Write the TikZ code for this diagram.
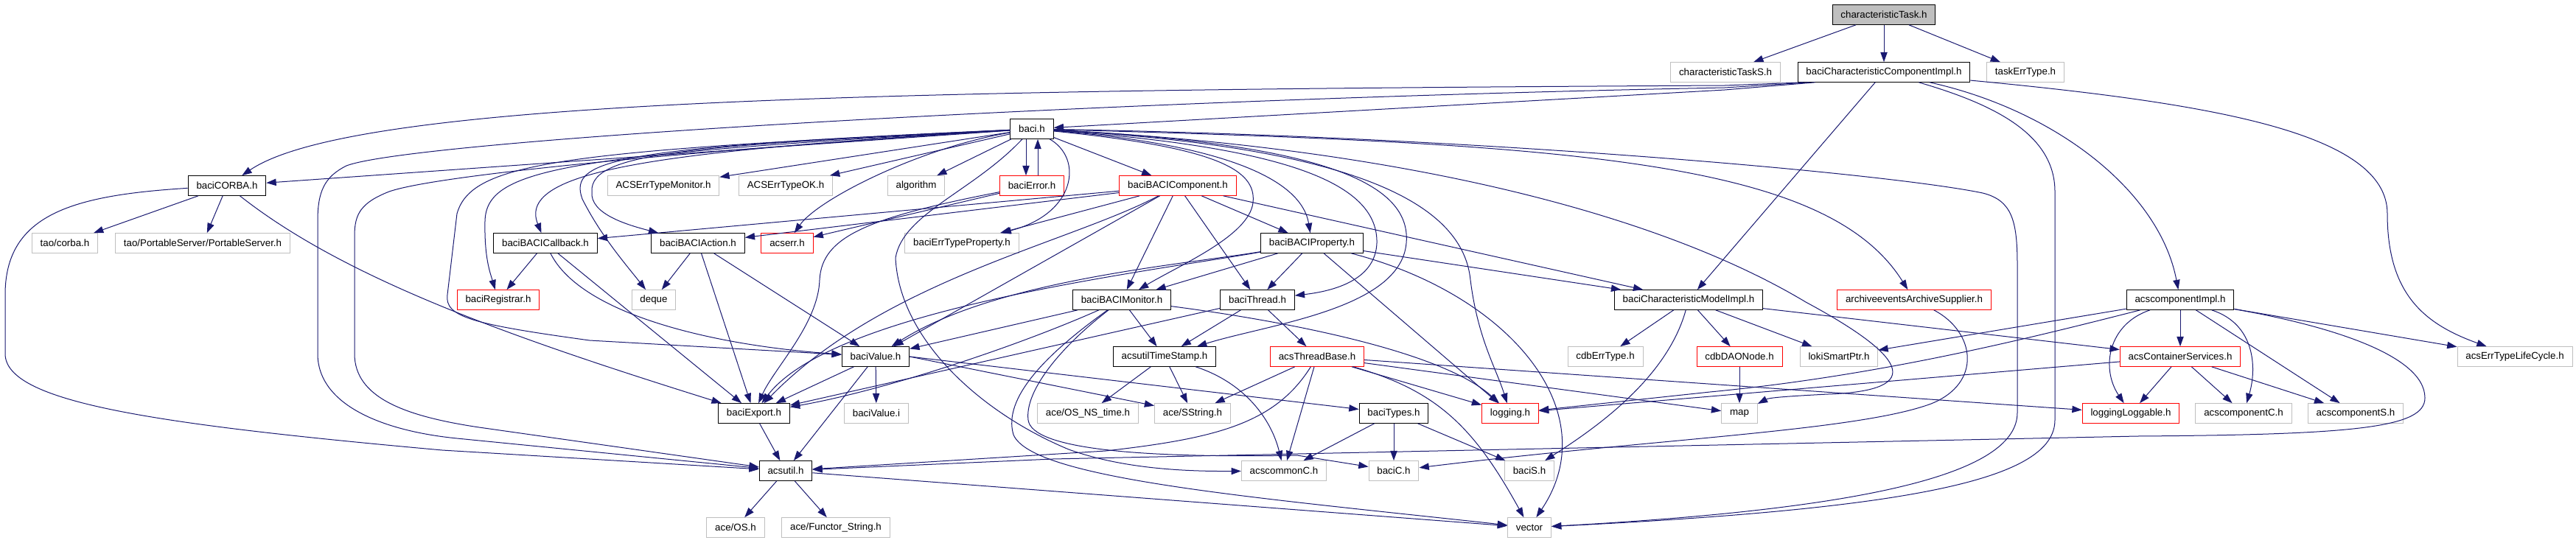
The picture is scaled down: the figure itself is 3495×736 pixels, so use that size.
\documentclass[tikz,border=0pt]{standalone}
\usepackage{fontspec}
\setmainfont{Liberation Sans}
\usepackage{tikz}
\usetikzlibrary{arrows.meta}
\definecolor{edgeblue}{RGB}{25,25,112}
\definecolor{extgray}{RGB}{191,191,191}
\definecolor{cutred}{RGB}{255,0,0}

\begin{document}
\begin{tikzpicture}[x=0.75pt,y=0.75pt,
	main node/.style={rectangle,draw=black,line width=0.75pt,minimum height=20pt,
		inner xsep=8.5pt,inner ysep=0pt,font=\fontsize{10}{12}\selectfont},
	ext node/.style={main node,draw=extgray},
	cut node/.style={main node,draw=cutred},
	root node/.style={main node,fill=extgray},
	dep/.style={color=edgeblue,line width=0.75pt,-{Triangle[length=10pt,width=7pt]}}]
	
	\useasboundingbox (0,0) rectangle (3495,-736);
	
	\node[root node] (1) at (2556,-20) {characteristicTask.h};
	\node[ext node] (2) at (2341,-98) {characteristicTaskS.h};
	\node[main node] (3) at (2556,-98) {baciCharacteristicComponentImpl.h};
	\node[ext node] (4) at (2748,-98) {taskErrType.h};
	\node[main node] (5) at (1400,-175) {baci.h};
	\node[main node] (6) at (308,-252) {baciCORBA.h};
	\node[ext node] (7) at (900,-252) {ACSErrTypeMonitor.h};
	\node[ext node] (8) at (1066,-252) {ACSErrTypeOK.h};
	\node[ext node] (9) at (1243,-252) {algorithm};
	\node[cut node] (10) at (1400,-252) {baciError.h};
	\node[cut node] (11) at (1598,-252) {baciBACIComponent.h};
	\node[ext node] (12) at (88,-330) {tao/corba.h};
	\node[ext node] (13) at (275,-330) {tao/PortableServer/PortableServer.h};
	\node[main node] (14) at (740,-330) {baciBACICallback.h};
	\node[main node] (15) at (947,-330) {baciBACIAction.h};
	\node[cut node] (16) at (1068,-330) {acserr.h};
	\node[ext node] (17) at (1305,-330) {baciErrTypeProperty.h};
	\node[main node] (18) at (1780,-330) {baciBACIProperty.h};
	\node[cut node] (19) at (676,-407) {baciRegistrar.h};
	\node[ext node] (20) at (887,-407) {deque};
	\node[main node] (21) at (1522,-407) {baciBACIMonitor.h};
	\node[main node] (22) at (1706,-407) {baciThread.h};
	\node[main node] (23) at (2291,-407) {baciCharacteristicModelImpl.h};
	\node[cut node] (24) at (2597,-407) {archiveeventsArchiveSupplier.h};
	\node[main node] (25) at (2958,-407) {acscomponentImpl.h};
	\node[main node] (26) at (1188,-484) {baciValue.h};
	\node[main node] (27) at (1580,-484) {acsutilTimeStamp.h};
	\node[cut node] (28) at (1787,-484) {acsThreadBase.h};
	\node[ext node] (29) at (2178,-484) {cdbErrType.h};
	\node[cut node] (30) at (2360,-484) {cdbDAONode.h};
	\node[ext node] (31) at (2495,-484) {lokiSmartPtr.h};
	\node[cut node] (32) at (2958,-484) {acsContainerServices.h};
	\node[ext node] (33) at (3412,-484) {acsErrTypeLifeCycle.h};
	\node[main node] (34) at (1023,-561) {baciExport.h};
	\node[ext node] (35) at (1189,-561) {baciValue.i};
	\node[ext node] (36) at (1476,-561) {ace/OS\_NS\_time.h};
	\node[ext node] (37) at (1618,-561) {ace/SString.h};
	\node[main node] (38) at (1891,-561) {baciTypes.h};
	\node[cut node] (39) at (2049,-561) {logging.h};
	\node[ext node] (40) at (2360,-561) {map};
	\node[cut node] (41) at (2891,-561) {loggingLoggable.h};
	\node[ext node] (42) at (3044,-561) {acscomponentC.h};
	\node[ext node] (43) at (3196,-561) {acscomponentS.h};
	\node[main node] (44) at (1066,-639) {acsutil.h};
	\node[ext node] (45) at (1742,-639) {acscommonC.h};
	\node[ext node] (46) at (1891,-639) {baciC.h};
	\node[ext node] (47) at (2075,-639) {baciS.h};
	\node[ext node] (48) at (998,-716) {ace/OS.h};
	\node[ext node] (49) at (1134,-716) {ace/Functor\_String.h};
	\node[ext node] (50) at (2075,-716) {vector};
	
	\path[dep]
	(1) edge (2) edge (3) edge (4)
	(3) edge (23)
	(5) edge (6) edge (7) edge (8) edge (9) edge (11)
	([xshift=-6pt]5.south) edge ([xshift=-6pt]10.north)
	([xshift=6pt]10.north) edge ([xshift=6pt]5.south)
	(6) edge (12) edge (13)
	(10) edge (16)
	(11) edge (14) edge (15) edge (17) edge (18) edge (21) edge (22) edge (23) edge (26)
	(14) edge (19) edge (34)
	(15) edge (20) edge (34) edge (26)
	(18) edge (21) edge (22) edge (23) edge (39)
	(21) edge (26) edge (27)
	(22) edge (27) edge (28) edge (34)
	(23) edge (29) edge (30) edge (31) edge (32)
	(25) edge (32) edge (43) edge (33) edge (31)
	(26) edge (35) edge (34) edge (44)
	(26.east) edge (37) edge (38)
	(27) edge (36) edge (37)
	(28) edge (45) edge (37) edge (39) edge (40) edge (41)
	(30) edge (40)
	(32) edge (41) edge (42) edge (43) edge (39)
	(38) edge (45) edge (46) edge (47)
	(34) edge (44)
	(44) edge (48) edge (49) edge (50);
	
	\draw[dep] ([xshift=6pt]3.south west) -- (2340,-116) .. controls (1200,-122) and (480,-135) .. (6);
	\draw[dep] ([xshift=12pt]3.south west) -- (2340,-119) .. controls (1500,-135) and (560,-190) .. (470,-225)
		.. controls (440,-240) and (431,-260) .. (431,-300) -- (431,-480)
		.. controls (431,-550) and (520,-585) .. (620,-595) -- (44);
	\draw[dep] ([xshift=18pt]3.south west) -- (2340,-122) -- (5);
	\draw[dep] (3) .. controls (2790,-150) and (2930,-260) .. (25);
	\draw[dep] (3) .. controls (3000,-140) and (3239,-180) .. (3239,-290) .. controls (3239,-400) and (3290,-440) .. (33);
	\draw[dep] (3) .. controls (2700,-140) and (2788,-180) .. (2788,-260) -- (2788,-570) .. controls (2788,-650) and (2600,-690) .. (50);
	
	\draw[dep] (5) .. controls (900,-205) and (700,-230) .. (14);
	\draw[dep] (5) .. controls (950,-198) and (800,-205) .. (803,-260) .. controls (800,-290) and (850,-305) .. (15);
	\draw[dep] (5) .. controls (1250,-200) and (1110,-270) .. (16);
	\draw[dep] (5) .. controls (1470,-215) and (1460,-290) .. (17);
	\draw[dep] (5) .. controls (1650,-195) and (1765,-240) .. (18);
	\draw[dep] (5) .. controls (760,-210) and (660,-230) .. (658,-300) .. controls (657,-350) and (665,-370) .. (19);
	\draw[dep] (5) .. controls (840,-200) and (770,-215) .. (790,-270) .. controls (815,-320) and (850,-360) .. (20);
	\draw[dep] (5) .. controls (760,-205) and (640,-220) .. (620,-290) -- (607,-400)
		.. controls (603,-430) and (640,-440) .. (800,-462) -- (26);
	\draw[dep] (5) .. controls (1000,-200) and (600,-235) .. (528,-260) .. controls (490,-275) and (481,-290) .. (481,-320)
		-- (481,-480) .. controls (481,-540) and (550,-565) .. (650,-580) -- (44);
	\draw[dep] (5) .. controls (1650,-200) and (1705,-230) .. (1700,-275) .. controls (1695,-320) and (1600,-360) .. (21);
	\draw[dep] (5) .. controls (1750,-200) and (1870,-250) .. (1868,-330) .. controls (1866,-380) and (1810,-395) .. (22);
	\draw[dep] (5) .. controls (1800,-195) and (1915,-250) .. (1908,-330) .. controls (1900,-420) and (1720,-440) .. (27);
	\draw[dep] (5) .. controls (1850,-200) and (1985,-280) .. (1995,-380) .. controls (2005,-460) and (2030,-500) .. (39);
	\draw[dep] (5) .. controls (1900,-200) and (2250,-290) .. (2450,-410) .. controls (2580,-480) and (2620,-530) .. (2480,-535)
		.. controls (2420,-538) and (2400,-540) .. (40);
	\draw[dep] (5) .. controls (2150,-195) and (2480,-220) .. (24);
	\draw[dep] (5) .. controls (2000,-185) and (2560,-235) .. (2690,-262) .. controls (2730,-272) and (2737,-300) .. (2737,-360)
		-- (2737,-560) .. controls (2737,-640) and (2550,-690) .. (50);
	\draw[dep] (5) .. controls (1320,-260) and (1225,-290) .. (1215,-350) .. controls (1220,-460) and (1330,-560) .. (1450,-610)
		.. controls (1520,-635) and (1600,-640) .. (45);
	
	\draw[dep] (6) .. controls (470,-380) and (700,-460) .. (34);
	\draw[dep] (6) .. controls (100,-265) and (7,-290) .. (7,-400) -- (7,-480) .. controls (7,-545) and (200,-575) .. (600,-611) -- (44);
	\draw[dep] (10) .. controls (1180,-295) and (1115,-320) .. (1112,-380) .. controls (1110,-440) and (1050,-500) .. (34);
	\draw[dep] (11) .. controls (1450,-330) and (1200,-380) .. (34);
	\draw[dep] (14) .. controls (790,-430) and (980,-470) .. (26);
	\draw[dep] (18) .. controls (1600,-360) and (1350,-380) .. (26);
	\draw[dep] (18) .. controls (1550,-370) and (1130,-420) .. (34);
	\draw[dep] (18) .. controls (2050,-400) and (2180,-560) .. (50);
	\draw[dep] (21) .. controls (1380,-470) and (1200,-530) .. (34);
	\draw[dep] (21) .. controls (1700,-430) and (1950,-470) .. (39);
	\draw[dep] (21) .. controls (1440,-470) and (1390,-530) .. (1395,-570) .. controls (1400,-610) and (1550,-622) .. (1760,-618) -- (46);
	\draw[dep] (21) .. controls (1420,-480) and (1360,-540) .. (1375,-590) .. controls (1400,-650) and (1700,-675) .. (50);
	\draw[dep] (27) .. controls (1690,-520) and (1725,-570) .. (45);
	\draw[dep] (28) .. controls (1950,-530) and (2000,-580) .. (50);
	\draw[dep] (28) .. controls (1730,-575) and (1650,-595) .. (1500,-612) -- (44);
	\draw[dep] (23) .. controls (2260,-520) and (2150,-590) .. (47);
	\draw[dep] (24) .. controls (2680,-450) and (2690,-520) .. (2620,-548) .. controls (2520,-585) and (2250,-595) .. (46);
	\draw[dep] (25) .. controls (2860,-440) and (2850,-500) .. (41);
	\draw[dep] (25) .. controls (3060,-440) and (3062,-500) .. (42);
	\draw[dep] (25) .. controls (2750,-460) and (2550,-510) .. (2320,-532) -- (39);
	\draw[dep] (25) .. controls (3150,-440) and (3290,-480) .. (3290,-540) .. controls (3290,-580) and (3200,-590) .. (2900,-592)
		-- (1428,-623) -- (44);
\end{tikzpicture}
\end{document}
